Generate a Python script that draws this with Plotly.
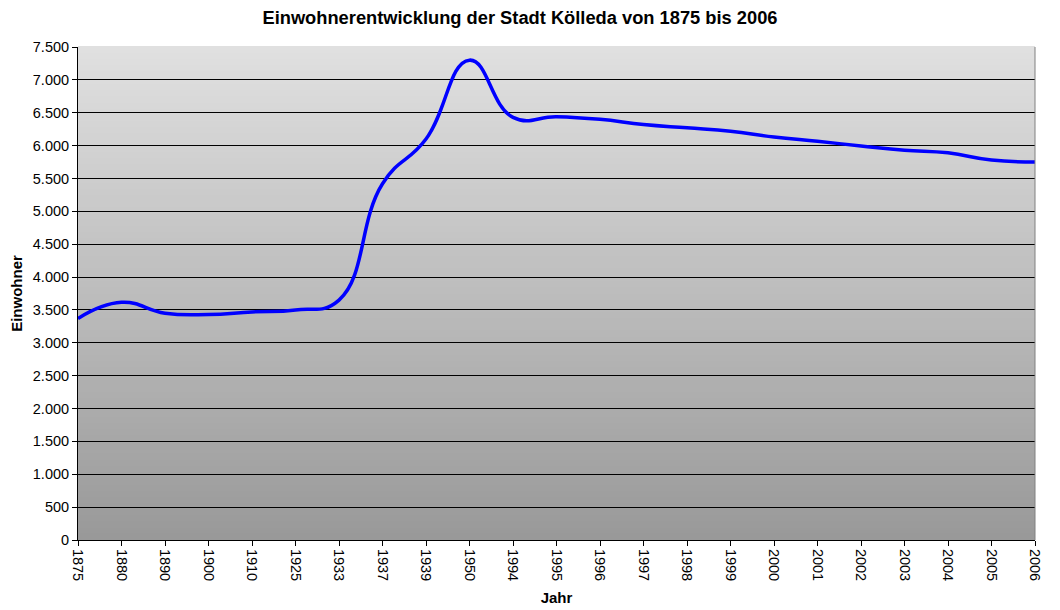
"""Einwohnerentwicklung der Stadt Kölleda, 1875-2006 (Excel-style line chart)."""

import plotly.graph_objects as go

# --- data ------------------------------------------------------------------
jahre = [
    "1875", "1880", "1890", "1900", "1910", "1925", "1933", "1937", "1939",
    "1950", "1994", "1995", "1996", "1997", "1998", "1999", "2000", "2001",
    "2002", "2003", "2004", "2005", "2006",
]
einwohner = [
    3370, 3615, 3450, 3430, 3470, 3500, 3650, 5420, 6100,
    7300, 6430, 6440, 6400, 6320, 6270, 6220, 6130, 6065,
    5995, 5930, 5890, 5780, 5750,
]

FONT = "Liberation Sans, Arial, sans-serif"

fig = go.Figure()
fig.add_scatter(
    x=jahre,
    y=einwohner,
    mode="lines",
    line=dict(color="#0000ff", width=3.5, shape="spline", smoothing=1.3),
    hoverinfo="x+y",
)

# grey vertical gradient behind the plot area (light on top, dark at bottom)
n_bands = 80
bands = []
for i in range(n_bands):
    t = i / (n_bands - 1)
    g = round(153 + (224 - 153) * t)
    bands.append(dict(
        type="rect", xref="paper", yref="paper",
        x0=0, x1=1, y0=i / n_bands, y1=(i + 1) / n_bands + 0.002,
        fillcolor=f"rgb({g},{g},{g})", line=dict(width=0), layer="below",
    ))
# thin grey frame on the right edge
bands.append(dict(
    type="line", xref="paper", yref="paper", x0=1, x1=1, y0=0, y1=1,
    line=dict(color="#808080", width=1), layer="above",
))

# the page puts the figure 8px in from the top-left corner, margins allow for it
fig.update_layout(
    width=1060,
    height=610,
    margin=dict(l=70, r=33, t=39, b=78),
    paper_bgcolor="white",
    plot_bgcolor="#c0c0c0",
    separators=",.",
    showlegend=False,
    font=dict(family=FONT, size=14, color="black"),
    title=dict(
        text="<b>Einwohnerentwicklung der Stadt Kölleda von 1875 bis 2006</b>",
        x=0.483, xanchor="center", xref="container",
        y=0.984, yanchor="middle", yref="container",
        font=dict(family=FONT, size=18.3, color="black"),
    ),
    shapes=bands,
    xaxis=dict(
        type="category",
        range=[0, len(jahre) - 1],
        tickangle=90,
        ticks="outside", ticklen=5, tickcolor="black",
        showline=True, linecolor="black", linewidth=1,
        showgrid=False, zeroline=False,
        automargin=False,
        tickfont=dict(family=FONT, size=14.5),
        title=dict(text="<b>Jahr</b>", font=dict(family=FONT, size=15), standoff=12),
    ),
    yaxis=dict(
        range=[0, 7500],
        dtick=500,
        tickformat=",d",
        ticks="outside", ticklen=5, tickcolor="black",
        showline=True, linecolor="black", linewidth=1,
        showgrid=True, gridcolor="black", gridwidth=1,
        zeroline=False,
        automargin=False,
        tickfont=dict(family=FONT, size=14.5),
        title=dict(text="<b>Einwohner</b>", font=dict(family=FONT, size=15), standoff=14),
    ),
)

fig.write_html("out.html")
